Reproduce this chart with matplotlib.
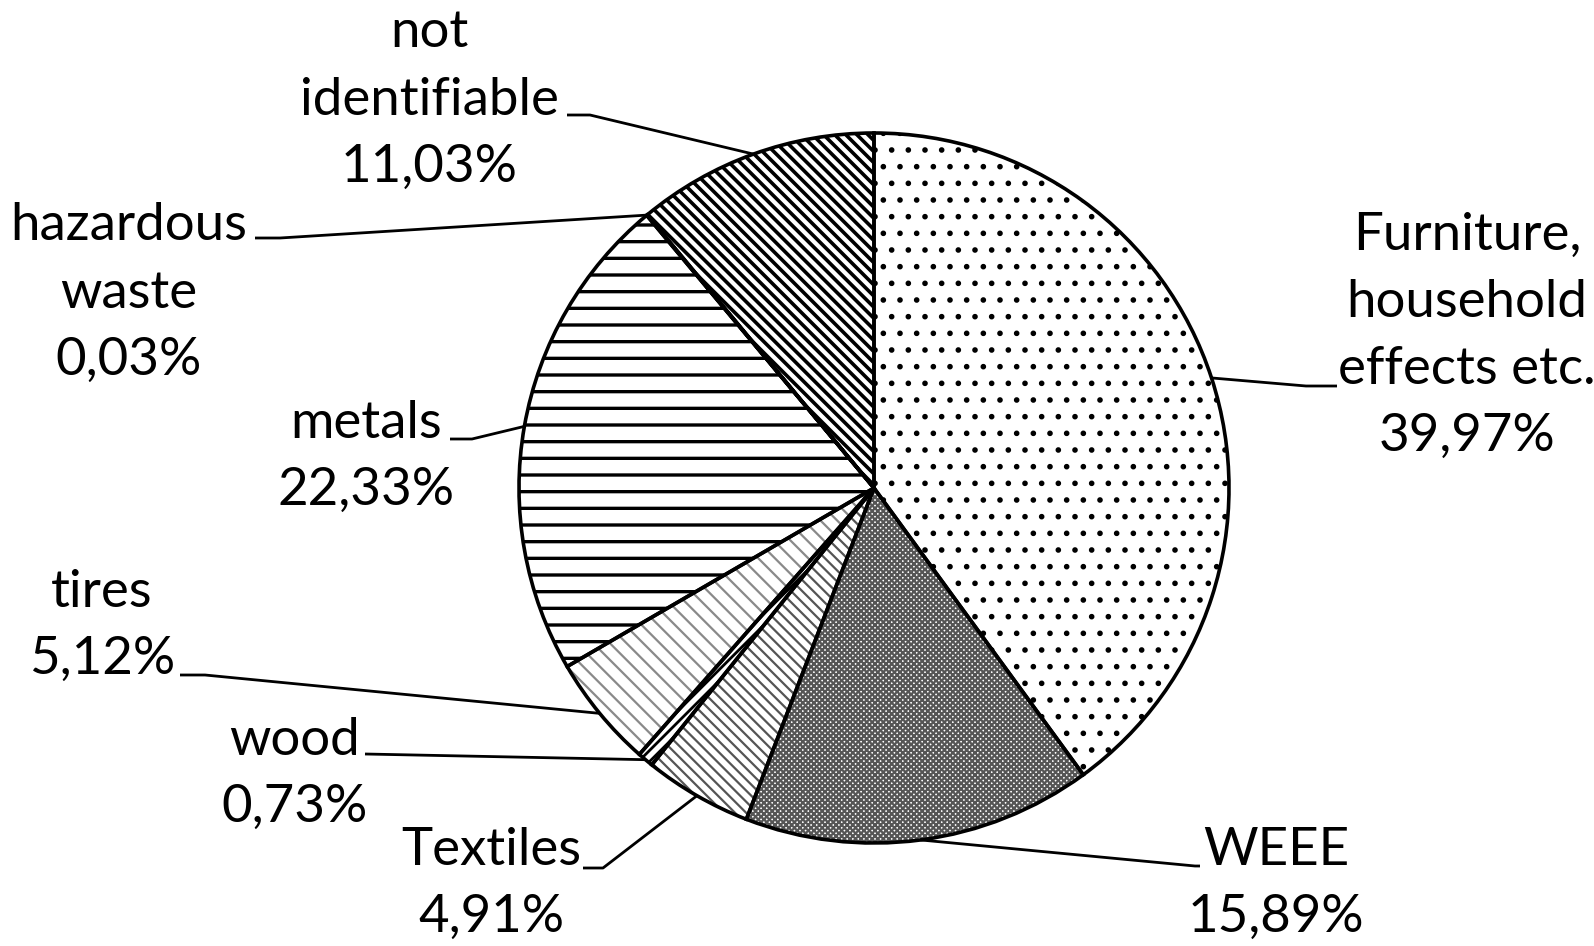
import matplotlib.pyplot as plt
import numpy as np

plt.rcParams["font.family"] = ["Lato", "DejaVu Sans"]
plt.rcParams["hatch.linewidth"] = 1.6

categories = ["Furniture,\nhousehold\neffects etc.", "WEEE", "Textiles", "wood",
              "tires", "metals", "hazardous\nwaste", "not\nidentifiable"]
shares = [39.97, 15.89, 4.91, 0.73, 5.12, 22.33, 0.03, 11.03]

hatches = [".", "xxxxxx", "\\\\\\", "///", "\\\\", "-", "", "\\\\\\"]
hatch_colors = ["black", "#555555", "#555555", "black", "#8a8a8a", "black", "black", "black"]
hatch_widths = [1.6, 1.6, 1.6, 2.0, 1.6, 2.4, 1.6, 2.6]

# label placement in image pixels (text centre, elbow points towards the pie)
label_pos = [(1467, 336), (1276, 884), (491, 884), (295, 774),
             (102, 626), (366, 457), (129, 293), (429, 100)]
elbows = [[(1337, 386), (1306, 386)], [(1200, 866), (1195, 866)],
          [(583, 868), (603, 868)], [(365, 754)],
          [(180, 675), (205, 675)], [(450, 439), (472, 439)],
          [(255, 238), (280, 238)], [(567, 115), (590, 115)]]

W, H = 1594, 946
cx, cy, r = 874, H - 488, 355

fig = plt.figure(figsize=(W / 100, H / 100), dpi=100)
ax = fig.add_axes([0, 0, 1, 1])

wedges, _ = ax.pie(shares, startangle=90, counterclock=False, center=(cx, cy),
                   radius=r, wedgeprops=dict(linewidth=0, facecolor="white"))
for w, h, c, lw in zip(wedges, hatches, hatch_colors, hatch_widths):
    w.set_hatch(h)
    w.set_edgecolor(c)
    if hasattr(w, "set_hatch_linewidth"):
        w.set_hatch_linewidth(lw)

ax.pie(shares, startangle=90, counterclock=False, center=(cx, cy), radius=r,
       wedgeprops=dict(linewidth=2.6, edgecolor="black", fill=False))

total = sum(shares)
cum = np.cumsum([0] + shares[:-1])
for i, (name, v) in enumerate(zip(categories, shares)):
    theta = np.deg2rad(90 - 360 * (cum[i] + v / 2) / total)
    ex, ey = cx + r * np.cos(theta), cy + r * np.sin(theta)
    pts = [(x, H - y) for x, y in elbows[i]] + [(ex, ey)]
    xs, ys = zip(*pts)
    ax.plot(xs, ys, color="black", linewidth=2, solid_capstyle="butt")
    tx, ty = label_pos[i]
    txt = name + "\n" + f"{v:.2f}".replace(".", ",") + "%"
    ax.text(tx, H - ty, txt, ha="center", va="center", multialignment="center",
            fontsize=38, linespacing=1.53, color="black")

ax.set_xlim(0, W)
ax.set_ylim(0, H)
ax.set_aspect("equal")
ax.axis("off")

fig.savefig("out.png", dpi=100, facecolor="white")
